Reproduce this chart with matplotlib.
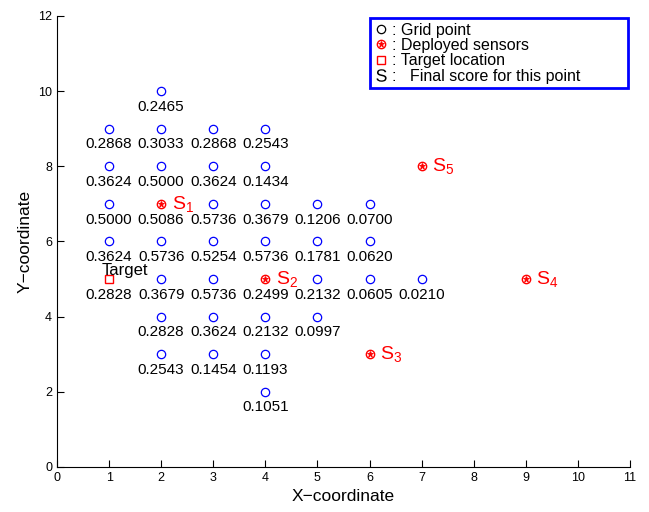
import matplotlib
matplotlib.use("Agg")
import matplotlib.pyplot as plt
from matplotlib.lines import Line2D
from matplotlib.legend_handler import HandlerTuple

plt.rcParams['font.family'] = ['Liberation Sans', 'DejaVu Sans']
plt.rcParams['mathtext.fontset'] = 'custom'
plt.rcParams['mathtext.rm'] = 'Liberation Sans'
plt.rcParams['mathtext.it'] = 'Liberation Sans'

# grid points and their final scores
grid_x = [2,
          1, 2, 3, 4,
          1, 2, 3, 4,
          1, 2, 3, 4, 5, 6,
          1, 2, 3, 4, 5, 6,
          1, 2, 3, 4, 5, 6, 7,
          2, 3, 4, 5,
          2, 3, 4,
          4]
grid_y = [10,
          9, 9, 9, 9,
          8, 8, 8, 8,
          7, 7, 7, 7, 7, 7,
          6, 6, 6, 6, 6, 6,
          5, 5, 5, 5, 5, 5, 5,
          4, 4, 4, 4,
          3, 3, 3,
          2]
scores = [0.2465,
          0.2868, 0.3033, 0.2868, 0.2543,
          0.3624, 0.5000, 0.3624, 0.1434,
          0.5000, 0.5086, 0.5736, 0.3679, 0.1206, 0.0700,
          0.3624, 0.5736, 0.5254, 0.5736, 0.1781, 0.0620,
          0.2828, 0.3679, 0.5736, 0.2499, 0.2132, 0.0605, 0.0210,
          0.2828, 0.3624, 0.2132, 0.0997,
          0.2543, 0.1454, 0.1193,
          0.1051]

sensor_x = [2, 4, 6, 9, 7]
sensor_y = [7, 5, 3, 5, 8]
sensor_names = ['1', '2', '3', '4', '5']

target_x = 1
target_y = 5


def main():
    fig = plt.figure(figsize=(6.49, 5.12), dpi=100)
    ax = fig.add_axes([0.0878, 0.0879, 0.8829, 0.8809])

    # blue circles everywhere except where sensors / target sit
    occupied = set(zip(sensor_x, sensor_y)) | {(target_x, target_y)}
    gx = [x for x, y in zip(grid_x, grid_y) if (x, y) not in occupied]
    gy = [y for x, y in zip(grid_x, grid_y) if (x, y) not in occupied]
    ax.plot(gx, gy, 'o', color='blue', mfc='none', ms=6, mew=0.9)

    for x, y, s in zip(grid_x, grid_y, scores):
        ax.text(x, y - 0.23, '%.4f' % s, ha='center', va='top', fontsize=11)

    ax.plot(sensor_x, sensor_y, 'o', color='red', mfc='none', ms=6, mew=1)
    ax.plot(sensor_x, sensor_y, '*', color='red', ms=5, mew=0.6)
    for x, y, n in zip(sensor_x, sensor_y, sensor_names):
        ax.text(x + 0.2, y, r'$\mathrm{S}_{%s}$' % n, color='red',
                fontsize=14, ha='left', va='center')

    ax.plot([target_x], [target_y], 's', color='red', mfc='none', ms=5.5, mew=1)
    ax.text(target_x - 0.14, target_y + 0.02, 'Target', fontsize=12,
            ha='left', va='bottom')

    ax.set_xlim(0, 11)
    ax.set_ylim(0, 12)
    ax.set_xticks(range(0, 12))
    ax.set_yticks(range(0, 13, 2))
    ax.tick_params(direction='in', length=5, width=0.8, labelsize=9)
    ax.spines['top'].set_visible(False)
    ax.spines['right'].set_visible(False)
    ax.set_xlabel('X\u2212coordinate', fontsize=12.5)
    ax.set_ylabel('Y\u2212coordinate', fontsize=12.5)

    h_grid = Line2D([], [], marker='o', color='black', mfc='none', ls='none', ms=6, mew=0.9)
    h_s1 = Line2D([], [], marker='o', color='red', mfc='none', ls='none', ms=6, mew=1)
    h_s2 = Line2D([], [], marker='*', color='red', ls='none', ms=5, mew=0.6)
    h_tgt = Line2D([], [], marker='s', color='red', mfc='none', ls='none', ms=5.5, mew=1)
    h_S = Line2D([], [], marker=r'$\mathrm{S}$', color='black', ls='none', ms=9, mew=0)
    leg = ax.legend([h_grid, (h_s1, h_s2), h_tgt, h_S],
                    [': Grid point', ': Deployed sensors', ': Target location',
                     ':   Final score for this point'],
                    handler_map={tuple: HandlerTuple(ndivide=1, pad=0)},
                    loc='upper left', bbox_to_anchor=(0.546, 0.836, 0.45, 0.16),
                    mode='expand', borderaxespad=0, fontsize=11.5, labelspacing=0.02,
                    handlelength=0.8, handletextpad=0.3, borderpad=0.3,
                    fancybox=False, framealpha=1)
    leg.get_frame().set_edgecolor('blue')
    leg.get_frame().set_linewidth(2)

    fig.savefig('out.png', dpi=100)


if __name__ == "__main__":
    main()
